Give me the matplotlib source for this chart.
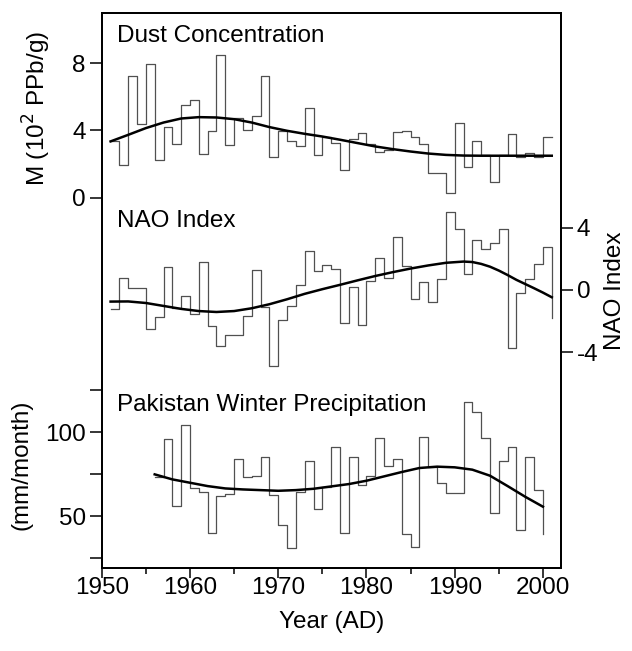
import numpy as np
import matplotlib.pyplot as plt

plt.rcParams['font.family'] = ['Liberation Sans', 'DejaVu Sans']
plt.rcParams['axes.unicode_minus'] = False

# dust concentration (10^2 ppb/g), yearly, 1951-2001
dust_years = np.arange(1951, 2002)
dust = [3.35, 1.96, 7.25, 4.40, 7.94, 2.26, 4.18, 3.21, 5.53, 5.82,
        2.61, 3.98, 8.46, 3.15, 4.73, 4.04, 4.83, 7.25, 2.40, 3.98,
        3.35, 3.05, 5.33, 2.55, 3.64, 3.25, 1.66, 3.48, 3.84, 3.21,
        2.75, 2.85, 3.88, 3.98, 3.64, 3.20, 1.47, 1.47, 0.31, 4.47,
        1.86, 3.35, 2.55, 0.97, 2.55, 3.78, 2.45, 2.69, 2.45, 3.64,
        3.64]
dust_fit_years = [1951, 1953, 1955, 1957, 1959, 1961, 1963, 1965, 1967, 1969,
                  1971, 1973, 1975, 1977, 1979, 1981, 1983, 1985, 1987, 1989,
                  1991, 1993, 1995, 1997, 1999, 2001]
dust_fit = [3.35, 3.74, 4.14, 4.47, 4.71, 4.79, 4.77, 4.67, 4.47, 4.20,
            3.98, 3.80, 3.64, 3.45, 3.25, 3.05, 2.89, 2.75, 2.63, 2.55,
            2.51, 2.50, 2.50, 2.50, 2.50, 2.50]

# NAO index, yearly, 1951-2001
nao_years = np.arange(1951, 2002)
nao = [-1.25, 0.80, 0.15, 0.15, -2.52, -1.72, 1.51, -1.18, -0.37, -1.57,
       1.78, -2.32, -3.59, -2.90, -2.90, -1.68, 1.29, -1.08, -4.88, -1.94,
       -1.03, 0.32, 2.52, 1.23, 1.61, 1.33, -2.15, 0.17, -2.26, 0.58,
       2.04, 0.80, 3.40, 1.57, -0.60, 0.49, -0.75, 0.71, 5.01, 3.91,
       1.01, 3.23, 2.65, 3.05, 3.91, -3.76, -0.17, 0.71, 1.68, 2.75,
       -1.83]
nao_fit_years = [1951, 1953, 1955, 1957, 1959, 1961, 1963, 1965, 1967, 1969,
                 1971, 1973, 1975, 1977, 1979, 1981, 1983, 1985, 1987, 1989,
                 1991, 1992, 1993, 1994, 1995, 1996, 1997, 1998, 1999, 2000,
                 2001]
nao_fit = [-0.75, -0.74, -0.84, -1.03, -1.22, -1.36, -1.42, -1.36, -1.18, -0.92,
           -0.60, -0.25, 0.05, 0.33, 0.62, 0.90, 1.15, 1.38, 1.58, 1.75,
           1.83, 1.80, 1.68, 1.50, 1.25, 0.96, 0.65, 0.38, 0.11, -0.17,
           -0.47]

# Pakistan winter precipitation (mm/month), yearly, 1956-2000
prec_years = np.arange(1956, 2001)
prec = [73.1, 96.0, 56.0, 104.4, 66.5, 64.5, 39.7, 61.9, 63.1, 83.9,
        73.5, 73.9, 85.0, 62.5, 44.6, 31.1, 64.1, 82.9, 54.0, 67.1,
        91.4, 39.7, 85.4, 68.5, 73.9, 96.4, 80.0, 83.9, 39.2, 31.3,
        97.2, 79.4, 69.5, 63.9, 63.9, 118.3, 112.3, 96.4, 52.0, 83.0,
        91.0, 41.6, 85.4, 65.7, 39.2]
prec_fit_years = [1956, 1958, 1960, 1962, 1964, 1966, 1968, 1970, 1972, 1974,
                  1976, 1978, 1980, 1982, 1984, 1986, 1988, 1990, 1992, 1994,
                  1996, 1998, 2000]
prec_fit = [74.9, 71.9, 69.9, 67.9, 66.5, 65.9, 65.5, 65.1, 65.5, 66.3,
            67.7, 69.1, 71.1, 73.7, 76.3, 78.7, 79.5, 79.1, 77.7, 74.1,
            67.9, 61.5, 55.6]

step_col = '#505050'
fs = 17.5

fig = plt.figure(figsize=(6.32, 6.51), dpi=100)
ax = fig.add_axes([0.161, 0.128, 0.726, 0.852])
axn = ax.twinx()
axp = ax.twinx()

ax.step(dust_years, dust, where='post', color=step_col, lw=0.9)
ax.plot(dust_fit_years, dust_fit, color='black', lw=1.8)
axn.step(nao_years, nao, where='post', color=step_col, lw=0.9)
axn.plot(nao_fit_years, nao_fit, color='black', lw=1.8)
axp.step(prec_years, prec, where='post', color=step_col, lw=0.9)
axp.plot(prec_fit_years, prec_fit, color='black', lw=1.8)

ax.set_xlim(1950, 2002)
ax.set_ylim(-21.95, 10.97)
axn.set_ylim(-17.9, 17.85)
axp.set_ylim(19.2, 350.3)

ax.set_xticks([1950, 1960, 1970, 1980, 1990, 2000])
ax.set_xticks([1955, 1965, 1975, 1985, 1995], minor=True)
ax.set_yticks([0, 4, 8])
axn.set_yticks([-4, 0, 4])
axp.set_yticks([25, 50, 75, 100, 125])
axp.set_yticklabels(['', '50', '', '100', ''])
axp.yaxis.tick_left()
axp.yaxis.set_label_position('left')

for a in (ax, axn, axp):
    a.tick_params(axis='y', which='major', direction='out', length=8.5,
                  width=1.1, labelsize=fs, pad=3)
    for s in a.spines.values():
        s.set_linewidth(1.2)
ax.tick_params(axis='x', which='major', direction='out', length=7,
               width=1.1, labelsize=fs, pad=0)
ax.tick_params(axis='x', which='minor', direction='out', length=4, width=1.1)

ax.set_xlabel('Year (AD)', fontsize=fs, labelpad=8)
ax.set_ylabel('M (10$^2$ PPb/g)', fontsize=fs)
ax.yaxis.set_label_coords(-0.107, 0.827)
axp.set_ylabel('(mm/month)', fontsize=fs)
axp.yaxis.set_label_coords(-0.150, 0.185)
axn.set_ylabel('NAO Index', fontsize=fs)
axn.yaxis.set_label_coords(1.094, 0.5)

ax.text(0.033, 0.959, 'Dust Concentration', transform=ax.transAxes,
        fontsize=fs, va='center', ha='left')
ax.text(0.033, 0.625, 'NAO Index', transform=ax.transAxes,
        fontsize=fs, va='center', ha='left')
ax.text(0.033, 0.293, 'Pakistan Winter Precipitation', transform=ax.transAxes,
        fontsize=fs, va='center', ha='left')

fig.savefig('out.png', dpi=100)
